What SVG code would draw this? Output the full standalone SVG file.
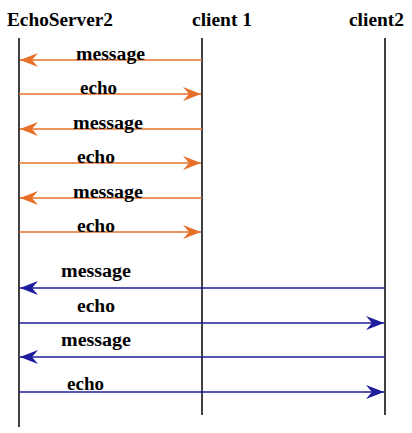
<svg xmlns="http://www.w3.org/2000/svg" width="412" height="433" viewBox="0 0 412 433">
<defs>
<marker id="ao" markerWidth="20" markerHeight="16" refX="19" refY="8" orient="auto-start-reverse" markerUnits="userSpaceOnUse">
<path d="M1,1 L19,8 L1,15 L7,8 Z" fill="#E8702A"/>
</marker>
<marker id="ab" markerWidth="20" markerHeight="16" refX="19" refY="8" orient="auto-start-reverse" markerUnits="userSpaceOnUse">
<path d="M1,1 L19,8 L1,15 L7,8 Z" fill="#1C1C9C"/>
</marker>
</defs>
<style>
.t{font-family:"Liberation Serif","Times New Roman",serif;font-weight:bold;fill:#000}
.h{font-size:19px}
.l{font-size:18px}
.life{stroke:#000;stroke-width:1.5;fill:none}
.o{stroke:#E8702A;stroke-width:1.5;fill:none}
.b{stroke:#1C1C9C;stroke-width:1.5;fill:none}
</style>
<rect width="412" height="433" fill="#fff"/>
<g id="EchoServer2">
<line class="life" x1="19" y1="38" x2="19" y2="427"/>
<text class="t h" x="7" y="26" textLength="106" lengthAdjust="spacingAndGlyphs">EchoServer2</text>
</g>
<g id="client1">
<line class="life" x1="202" y1="38" x2="202" y2="415"/>
<text class="t h" x="192" y="26" textLength="60" lengthAdjust="spacingAndGlyphs">client 1</text>
</g>
<g id="client2">
<line class="life" x1="385" y1="38" x2="385" y2="415"/>
<text class="t h" x="349" y="26" textLength="55" lengthAdjust="spacingAndGlyphs">client2</text>
</g>
<g id="connectors">
<line class="o" x1="202" y1="60" x2="20" y2="60" marker-end="url(#ao)"/>
<line class="o" x1="19" y1="94" x2="201" y2="94" marker-end="url(#ao)"/>
<line class="o" x1="202" y1="129" x2="20" y2="129" marker-end="url(#ao)"/>
<line class="o" x1="19" y1="163" x2="201" y2="163" marker-end="url(#ao)"/>
<line class="o" x1="202" y1="198" x2="20" y2="198" marker-end="url(#ao)"/>
<line class="o" x1="19" y1="232" x2="201" y2="232" marker-end="url(#ao)"/>
<line class="b" x1="385" y1="288" x2="20" y2="288" marker-end="url(#ab)"/>
<line class="b" x1="19" y1="323" x2="384" y2="323" marker-end="url(#ab)"/>
<line class="b" x1="385" y1="357" x2="20" y2="357" marker-end="url(#ab)"/>
<line class="b" x1="19" y1="392" x2="384" y2="392" marker-end="url(#ab)"/>
<text class="t l" x="76" y="60" textLength="69" lengthAdjust="spacingAndGlyphs">message</text>
<text class="t l" x="80" y="94" textLength="37" lengthAdjust="spacingAndGlyphs">echo</text>
<text class="t l" x="73" y="129" textLength="70" lengthAdjust="spacingAndGlyphs">message</text>
<text class="t l" x="77" y="163" textLength="38" lengthAdjust="spacingAndGlyphs">echo</text>
<text class="t l" x="73" y="198" textLength="70" lengthAdjust="spacingAndGlyphs">message</text>
<text class="t l" x="77" y="232" textLength="38" lengthAdjust="spacingAndGlyphs">echo</text>
<text class="t l" x="61" y="277" textLength="70" lengthAdjust="spacingAndGlyphs">message</text>
<text class="t l" x="77" y="312" textLength="38" lengthAdjust="spacingAndGlyphs">echo</text>
<text class="t l" x="61" y="346" textLength="70" lengthAdjust="spacingAndGlyphs">message</text>
<text class="t l" x="67" y="390" textLength="37" lengthAdjust="spacingAndGlyphs">echo</text>
</g>
</svg>
